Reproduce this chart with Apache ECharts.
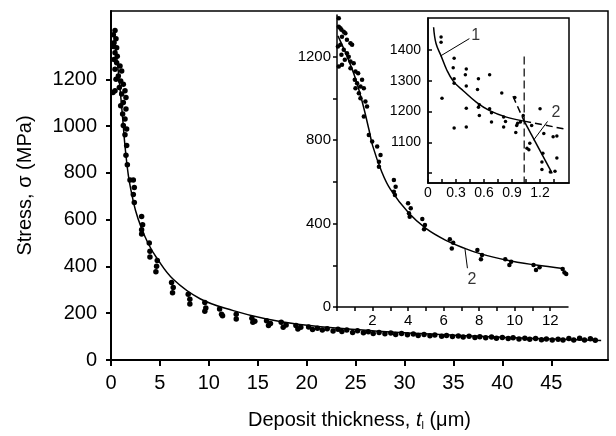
<!DOCTYPE html>
<html>
<head>
<meta charset="utf-8">
<script src="https://cdn.jsdelivr.net/npm/echarts@6/dist/echarts.min.js"></script>
<style>html,body{margin:0;padding:0;background:#fff}#c{width:616px;height:436px}</style>
</head>
<body>
<div id="c"></div>
<script>
// ---------- Main plot ----------
const mainXTicks = [0, 5, 10, 15, 20, 25, 30, 35, 40, 45];
const mainYTicks = [0, 200, 400, 600, 800, 1000, 1200];
const mainPoints = [
  [0.41,1409],[0.24,1391],[0.51,1373],[0.31,1356],[0.25,1340],[0.58,1335],[0.41,1313],[0.64,1299],
  [0.31,1285],[0.58,1271],[0.92,1257],[0.41,1243],[1.09,1235],[0.75,1214],[0.51,1200],[0.99,1193],
  [1.26,1179],[0.85,1165],[0.41,1151],[0.2,1144],[1.43,1151],[1.09,1137],[1.53,1122],[1.26,1101],
  [0.99,1087],[1.53,1073],[1.19,1052],[1.43,1030],[1.26,1002],[1.6,988],[1.43,963],[1.6,917],
  [1.53,875],[1.67,835],[1.94,769],[2.28,769],[2.38,737],[2.28,708],[2.38,673],[3.13,613],
  [3.23,578],[3.13,557],[3.13,539],[3.91,500],[3.98,465],[3.98,440],[4.73,425],[4.66,401],
  [4.59,377],[6.19,331],[6.36,310],[6.29,288],[7.89,281],[8.06,260],[8.06,239],[9.59,246],
  [9.69,222],[9.59,208],[11.1,218],[11.3,196],[11.4,189],[12.8,196],[12.8,175],[14.4,179],
  [14.5,161],[14.7,166],[15.9,168],[16.1,147],[16.3,156],[17.4,161],[17.6,140],[17.9,150],
  [18.9,147],[19.1,133],[19.4,140],[20.2,141],[20.6,130],[21.1,136],[21.6,128],[22.1,134],
  [22.7,124],[23.2,131],[23.6,122],[24.1,128],[24.7,118],[25.2,125],[25.8,117],[26.3,121],
  [26.8,113],[27.4,118],[28.0,112],[28.6,115],[29.1,109],[29.7,113],[30.3,108],[30.9,111],
  [31.4,105],[32.0,109],[32.6,104],[33.1,107],[33.8,101],[34.3,105],[34.9,100],[35.5,103],
  [36.0,98],[36.6,101],[37.2,96],[37.7,99],[38.3,95],[38.9,98],[39.4,93],[40.0,96],
  [40.6,92],[41.1,95],[41.7,90],[42.3,93],[42.8,89],[43.4,92],[44.0,87],[44.5,90],
  [45.1,86],[45.7,89],[46.2,85],[46.8,92],[47.3,86],[47.9,93],[48.4,85],[49.0,91],[49.5,84]
];
const mainCurve = [
  [0.3,1390],[0.6,1290],[0.9,1170],[1.2,1030],[1.43,915],[1.77,790],[2.0,735],[2.5,640],
  [3.1,565],[3.8,498],[4.66,437],[6.36,345],[9.1,262],[12.5,211],[15.9,175],[19.3,152],
  [25,130],[30,116],[35,106],[40,97],[45,90],[50.1,83]
];
const mainXName = 'Deposit thickness, {it|t}{sub|l} (\u03bcm)';
const mainYName = 'Stress, \u03c3 (MPa)';

// ---------- Inset 1 ----------
const in1XTicks = [0,1,2,3,4,5,6,7,8,9,10,11,12];
const in1XLabels = [2,4,6,8,10,12];
const in1YTicks = [0,200,400,600,800,1000,1200];
const in1YLabels = [0,400,800,1200];
const in1Points = [
  [0.1,1385],[0.1,1344],[0.25,1329],[0.38,1320],[0.47,1313],[0.28,1296],[0.19,1337],[0.56,1281],
  [0.76,1265],[0.85,1257],[0.05,1249],[0.19,1257],[0.38,1233],[0.56,1217],[0.25,1209],[0.66,1200],
  [0.44,1185],[0.76,1177],[0.94,1169],[0.1,1153],[0.28,1161],[0.76,1145],[1.04,1129],[1.19,1121],
  [1.0,1089],[1.13,1073],[1.41,1089],[1.32,1057],[1.04,1049],[1.51,1049],[1.23,1025],[1.32,1001],
  [1.6,985],[1.69,961],[1.51,913],[1.79,825],[1.98,793],[2.26,769],[2.45,729],[2.36,697],
  [2.36,673],[3.2,609],[3.3,577],[3.2,553],[3.26,537],[4.0,497],[4.15,473],[4.05,449],
  [4.09,433],[4.8,422],[4.95,393],[4.9,373],[6.35,325],[6.54,308],[6.46,281],[7.9,273],
  [8.16,249],[8.1,229],[9.47,229],[9.8,217],[9.7,201],[11.06,201],[11.4,190],[11.2,177],
  [12.7,182],[12.8,165],[12.9,158]
];
const in1Curve = [
  [0.05,1300],[0.5,1215],[1.0,1105],[1.4,990],[1.8,850],[2.0,775],[2.5,652],[3.0,565],
  [4.05,449],[5.0,377],[6.1,321],[7.2,281],[8.0,257],[9.5,225],[11.2,201],[12.7,185]
];
const in1Leader = [[7.2,279],[7.34,186]];
const in1Label = [[7.6,130,'2']];

// ---------- Inset 2 ----------
const in2XTicks = [0,0.15,0.3,0.45,0.6,0.75,0.9,1.05,1.2,1.35];
const in2XLabels = [0,0.3,0.6,0.9,1.2];
const in2YTicks = [1000,1100,1200,1300,1400];
const in2YLabels = [1100,1200,1300,1400];
const in2Points = [
  [0.14,1442],[0.14,1425],[0.28,1373],[0.27,1342],[0.28,1307],[0.28,1292],[0.41,1338],[0.40,1320],
  [0.41,1283],[0.54,1307],[0.53,1272],[0.66,1320],[0.79,1260],[0.15,1243],[0.41,1211],[0.54,1214],
  [0.55,1222],[0.55,1187],[0.66,1209],[0.68,1196],[0.68,1166],[0.81,1182],[0.83,1168],[0.81,1150],
  [0.93,1246],[0.95,1155],[0.96,1162],[0.94,1132],[0.99,1166],[1.02,1187],[1.11,1155],[1.2,1209],
  [1.24,1129],[1.34,1118],[1.38,1121],[1.09,1097],[1.06,1081],[1.08,1076],[1.23,1065],[1.22,1036],
  [1.38,1049],[1.22,1012],[1.31,1004],[1.36,1006],[0.28,1147],[0.41,1150]
];
const in2Curve1 = [
  [0.06,1474],[0.086,1421],[0.14,1381],[0.2,1336],[0.27,1299],[0.38,1267],[0.52,1230],
  [0.66,1203],[0.84,1182],[1.03,1169]
];
const in2Curve1Ext = [[1.03,1169],[1.49,1142]];
const in2Line2 = [[1.03,1169],[1.33,999]];
const in2Line2Ext = [[0.91,1250],[1.03,1169]];
const in2Vertical = [[1.03,1379],[1.03,968]];
const in2Leader1 = [[0.136,1381],[0.443,1437]];
const in2Leader2 = [[1.13,1107],[1.28,1168]];
const in2Labels = [[0.51,1448,'1'],[1.37,1198,'2']];

const FONT = 'Liberation Sans, Arial, Helvetica, sans-serif';
const chart = echarts.init(document.getElementById('c'), null, {renderer:'canvas'});
const plain = v => String(v);

function axisBase(o){
  return Object.assign({
    type:'value',
    splitLine:{show:false},
    axisLine:{show:true,onZero:false,lineStyle:{color:'#000',width:1.5}},
  }, o);
}
function line(data, xi, opts){
  return Object.assign({
    type:'line', xAxisIndex:xi, yAxisIndex:xi, data:data, symbol:'none', smooth:false,
    lineStyle:{color:'#000', width:1.5}, silent:true, z:3
  }, opts||{});
}
function labels(data, xi, fs){
  return {
    type:'scatter', xAxisIndex:xi, yAxisIndex:xi, symbolSize:0, silent:true,
    data:data.map(d=>({value:[d[0],d[1]], name:d[2]})),
    label:{show:true, position:'inside', formatter:p=>p.name, color:'#000', fontSize:fs, fontFamily:FONT},
    z:5
  };
}
function dots(data, xi, size, z){
  return {type:'scatter', xAxisIndex:xi, yAxisIndex:xi, data:data, symbolSize:size,
    itemStyle:{color:'#000', opacity:1}, silent:true, z:z};
}

const option = {
  animation:false,
  backgroundColor:'#fff',
  textStyle:{fontFamily:FONT},
  grid:[
    {left:111, top:11, width:497, height:351, show:true, borderColor:'#000', borderWidth:1.5, backgroundColor:'transparent'},
    {left:337, top:15, width:231, height:292, show:false},
    {left:428, top:18, width:141, height:165, show:true, borderColor:'#000', borderWidth:1.5, backgroundColor:'#fff'}
  ],
  xAxis:[
    axisBase({gridIndex:0, min:0, max:50.8,
      axisLine:{show:true,onZero:false,lineStyle:{color:'#000',width:2}},
      axisTick:{show:true, length:6, lineStyle:{color:'#000',width:2}, customValues:mainXTicks},
      axisLabel:{customValues:mainXTicks, formatter:plain, fontSize:20, color:'#000', margin:13, fontFamily:FONT},
      name:mainXName, nameLocation:'middle', nameGap:50,
      nameTextStyle:{fontSize:20, color:'#000', fontFamily:FONT,
        rich:{it:{fontStyle:'italic', fontSize:20, fontFamily:FONT, color:'#000'},
              sub:{fontSize:11, fontFamily:FONT, color:'#000', padding:[10,0,0,0]}}}
    }),
    axisBase({gridIndex:1, min:0, max:13,
      axisTick:{show:true, length:4, lineStyle:{color:'#000',width:1.5}, customValues:in1XTicks},
      axisLabel:{customValues:in1XLabels, formatter:plain, fontSize:15, color:'#000', margin:6, fontFamily:FONT}
    }),
    axisBase({gridIndex:2, min:0, max:1.51,
      axisTick:{show:true, inside:true, length:4, lineStyle:{color:'#000',width:1.5}, customValues:in2XTicks},
      axisLabel:{customValues:in2XLabels, formatter:plain, fontSize:14, color:'#000', margin:3, fontFamily:FONT}
    })
  ],
  yAxis:[
    axisBase({gridIndex:0, min:0, max:1492,
      axisLine:{show:true,onZero:false,lineStyle:{color:'#000',width:2}},
      axisTick:{show:true, length:5, lineStyle:{color:'#000',width:2}, customValues:mainYTicks},
      axisLabel:{customValues:mainYTicks, formatter:plain, fontSize:20, color:'#000', margin:14, fontFamily:FONT},
      name:mainYName, nameLocation:'middle', nameGap:76,
      nameTextStyle:{fontSize:20, color:'#000', fontFamily:FONT}
    }),
    axisBase({gridIndex:1, min:0, max:1400,
      axisTick:{show:true, length:4, lineStyle:{color:'#000',width:1.5}, customValues:in1YTicks},
      axisLabel:{customValues:in1YLabels, formatter:plain, fontSize:15, color:'#000', margin:6, fontFamily:FONT}
    }),
    axisBase({gridIndex:2, min:968, max:1504,
      axisTick:{show:true, inside:true, length:4, lineStyle:{color:'#000',width:1.5}, customValues:in2YTicks},
      axisLabel:{customValues:in2YLabels, formatter:plain, fontSize:14, color:'#000', margin:7, fontFamily:FONT}
    })
  ],
  series:[
    dots(mainPoints, 0, 5.5, 2),
    line(mainCurve, 0, {smooth:0.4}),
    dots(in1Points, 1, 4.5, 2),
    line(in1Curve, 1, {smooth:0.4}),
    line(in1Leader, 1, {lineStyle:{color:'#000',width:1}}),
    labels(in1Label, 1, 16),
    dots(in2Points, 2, 3.5, 4),
    line(in2Curve1, 2, {smooth:0.4}),
    line(in2Curve1Ext, 2, {lineStyle:{color:'#000',width:1.5,type:[7,4]}}),
    line(in2Line2, 2),
    line(in2Line2Ext, 2, {lineStyle:{color:'#000',width:1.5,type:[7,4]}}),
    line(in2Vertical, 2, {lineStyle:{color:'#000',width:1.2,type:[8,4]}}),
    line(in2Leader1, 2, {lineStyle:{color:'#000',width:1}}),
    line(in2Leader2, 2, {lineStyle:{color:'#000',width:1}}),
    labels(in2Labels, 2, 16)
  ]
};
chart.setOption(option);
</script>
</body>
</html>
